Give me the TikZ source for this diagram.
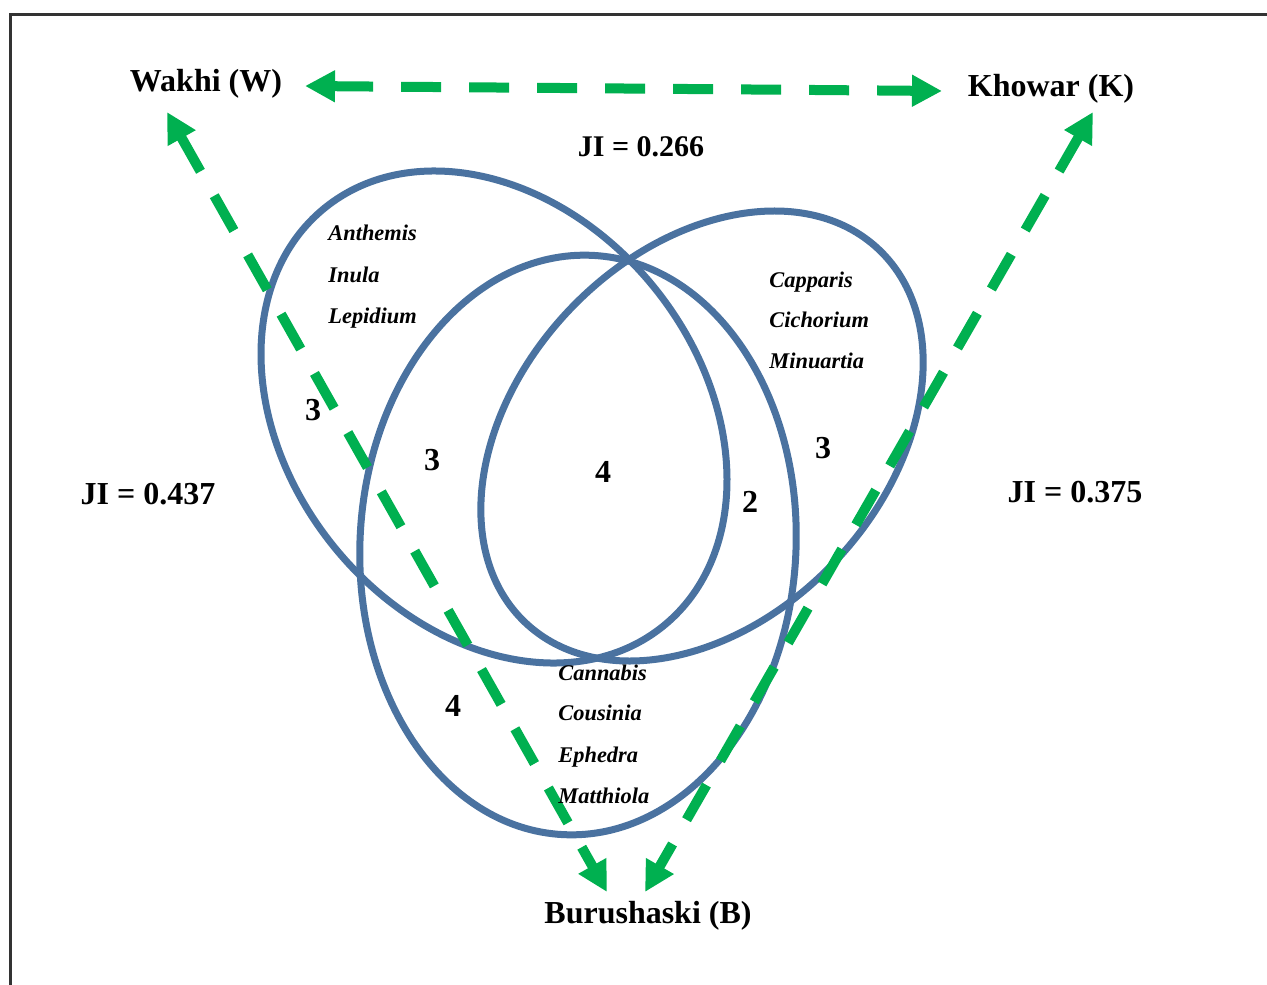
\documentclass[tikz,border=0pt]{standalone}
\usepackage{fontspec}
\setmainfont{Liberation Serif}
\usetikzlibrary{arrows.meta,calc}
\definecolor{vennblue}{RGB}{74,114,160}
\definecolor{simgreen}{RGB}{0,176,80}

\begin{document}
\begin{tikzpicture}[x=0.5pt,y=-0.5pt,
    venn/.style={draw=vennblue, line width=3.5pt},
    lang/.style={font=\fontsize{16}{19}\selectfont\bfseries, inner sep=0pt, anchor=base},
    ji/.style={font=\fontsize{16}{19}\selectfont\bfseries, inner sep=0pt, anchor=base},
    num/.style={font=\fontsize{16}{19}\selectfont\bfseries, inner sep=0pt, anchor=base},
    genus/.style={font=\fontsize{11.2}{13}\selectfont\bfseries\itshape, inner sep=0pt, anchor=base west},
    simline/.style={draw=simgreen, line width=5pt, dash pattern=on 20pt off 14pt,
        {Triangle[length=15pt,width=15pt]}-{Triangle[length=15pt,width=15pt]}}]

    \useasboundingbox (0,0) rectangle (1267,984);
    \draw[line width=1.5pt, black!80] (10,15) rectangle (1300,1020);

    % the three sets
    \draw[venn, rotate around={-51:(494,417)}] (494,417) ellipse (269 and 206);
    \draw[venn, rotate around={46.5:(702,436)}] (702,436) ellipse (257 and 183);
    \draw[venn, rotate around={-3:(578,545)}] (578,545) ellipse (218 and 290);

    \node[lang] (W) at (206,92) {Wakhi (W)};
    \node[lang] (K) at (1051,97) {Khowar (K)};
    \node[lang] (B) at (648,923) {Burushaski (B)};

    \draw[simline] ($(W.base)+(99,-6)$) -- ($(K.base)+(-109,-6)$);
    \draw[simline] ($(W.base)+(-39,20)$) -- ($(B.base)+(-41,-31)$);
    \draw[simline] ($(K.base)+(42,15)$) -- ($(B.base)+(-3,-31)$);

    \node[ji, font=\fontsize{15}{18}\selectfont\bfseries] (jiwk) at (641,157) {JI = 0.266};
    \node[ji] (jiwb) at (148,504) {JI = 0.437};
    \node[ji] (jikb) at (1075,502) {JI = 0.375};

    \node[num] (nw) at (313,420) {3};
    \node[num] (nwb) at (432,470) {3};
    \node[num] (nall) at (603,482) {4};
    \node[num] (nkb) at (750,512) {2};
    \node[num] (nk) at (823,458) {3};
    \node[num] (nb) at (453,716) {4};

    \node[genus] (anth) at (328,241) {Anthemis};
    \node[genus] (inul) at (328,282) {Inula};
    \node[genus] (lepi) at (328,323) {Lepidium};

    \node[genus] (capp) at (769,287) {Capparis};
    \node[genus] (cich) at (769,327) {Cichorium};
    \node[genus] (minu) at (769,368) {Minuartia};

    \node[genus] (cann) at (558,680) {Cannabis};
    \node[genus] (cous) at (558,720) {Cousinia};
    \node[genus] (ephe) at (558,762) {Ephedra};
    \node[genus] (matt) at (558,803) {Matthiola};
\end{tikzpicture}
\end{document}
